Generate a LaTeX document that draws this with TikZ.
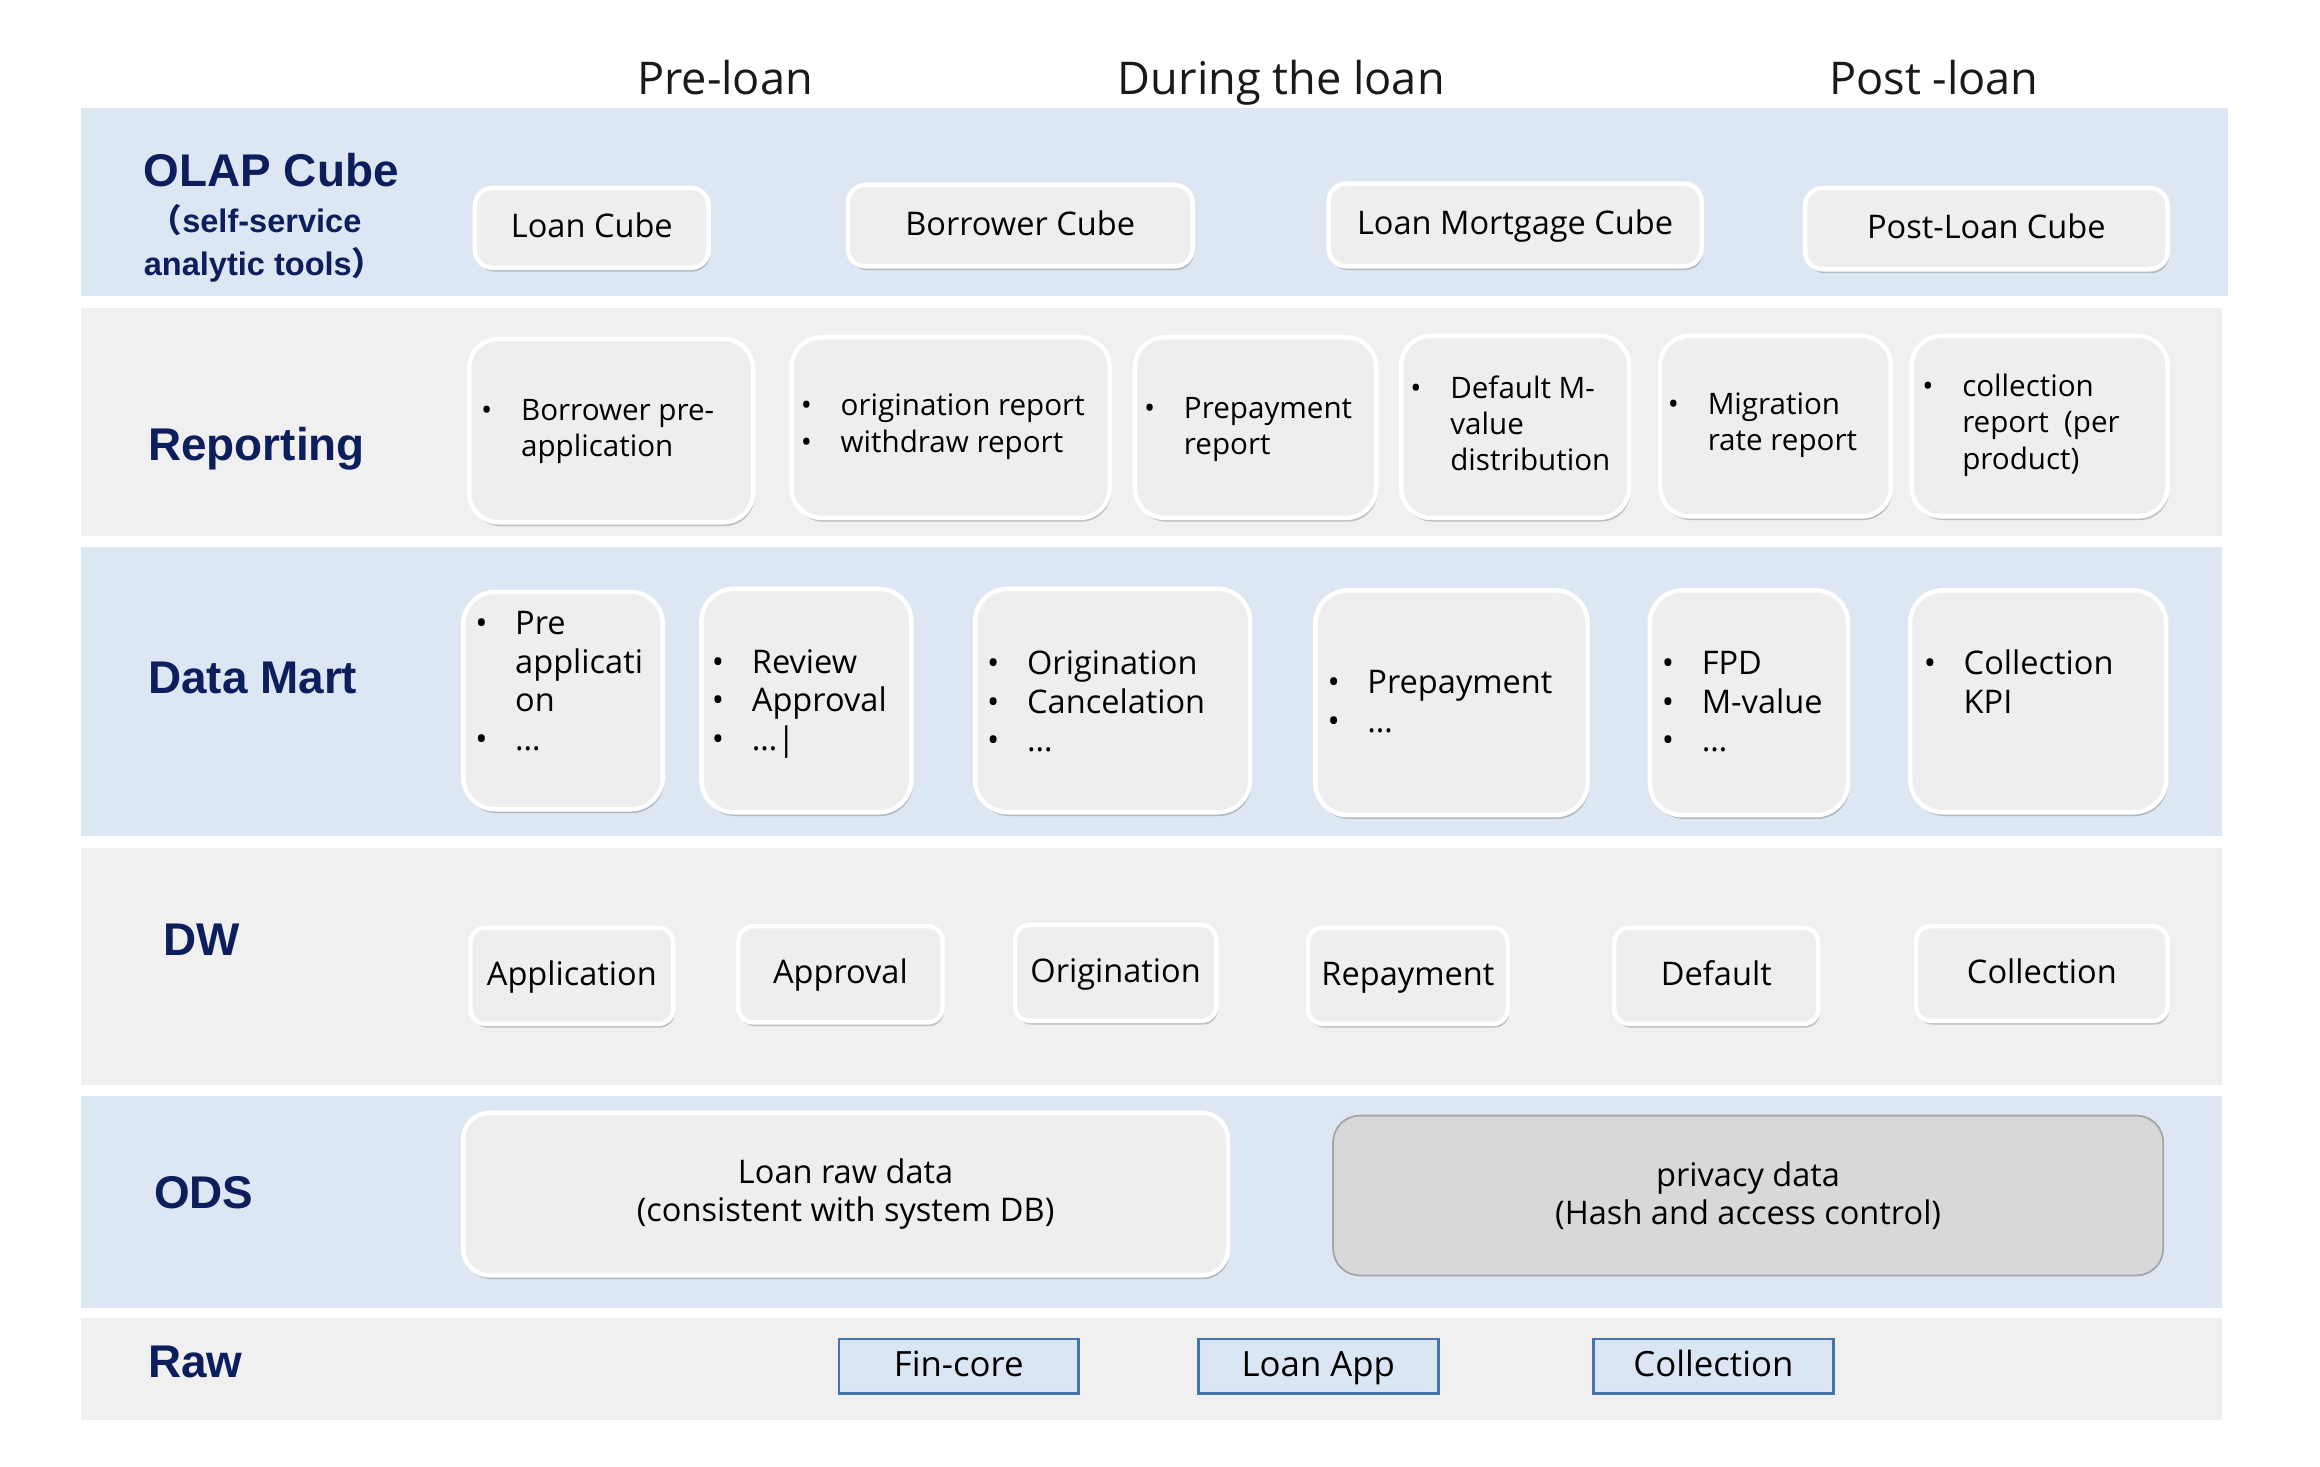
\documentclass[tikz,border=0pt]{standalone}
\usepackage{fontspec}
\setmainfont{Open Sans}
\newfontfamily\labfont{Liberation Sans}
\newfontfamily\cjk{Noto Sans CJK SC}
\usetikzlibrary{shadows}
\definecolor{bandblue}{RGB}{220,231,243}
\definecolor{bandgray}{RGB}{240,240,240}
\definecolor{cardfill}{RGB}{238,238,238}
\definecolor{navy}{RGB}{12,30,92}
\definecolor{rawfill}{RGB}{218,230,244}
\definecolor{rawline}{RGB}{70,115,170}
\definecolor{privfill}{RGB}{216,216,216}
\definecolor{privline}{RGB}{165,165,165}
\newcommand\bu{\makebox[27pt][l]{•}}
\newcommand\ind{\hspace*{27pt}}
\newcommand\bx[5]{\node[#1, minimum width={#4-#2}, minimum height={#5-#3}] at ({(#2+#4)/2},{(#3+#5)/2})}
\begin{document}
\begin{tikzpicture}[x=1pt,y=-1pt,
  card/.style={rectangle, fill=cardfill, draw=white, line width=3pt, inner sep=0pt,
    drop shadow={shadow xshift=1pt, shadow yshift=-2.5pt, opacity=0.3, fill=black!70}},
  oneline/.style={text height=17pt, text depth=4pt},
  cube/.style={card, oneline, rounded corners=12pt, font=\fontsize{22}{26}\selectfont},
  rep/.style={card, rounded corners=20pt},
  dm/.style={card, rounded corners=22pt},
  dw/.style={card, oneline, rounded corners=10pt, font=\fontsize{22}{26}\selectfont},
  ods/.style={card, rounded corners=18pt, align=center, font=\fontsize{22}{26}\selectfont},
  priv/.style={rectangle, rounded corners=18pt, fill=privfill, draw=privline, line width=1.2pt,
    inner sep=0pt, align=center, font=\fontsize{22}{26}\selectfont},
  raw/.style={rectangle, text height=18pt, text depth=4.5pt, fill=rawfill, draw=rawline,
    line width=1.8pt, inner sep=0pt, font=\fontsize{23.5}{28}\selectfont},
  rtxt/.style={anchor=base west, inner sep=0pt, align=left, font=\fontsize{20}{24.5}\selectfont},
  dtxt/.style={anchor=base west, inner sep=0pt, align=left, font=\fontsize{22}{26}\selectfont},
  lab/.style={anchor=base west, inner sep=0pt, text=navy, font=\labfont\bfseries\fontsize{31}{36}\selectfont},
  sublab/.style={anchor=base west, inner sep=0pt, align=left, text=navy, font=\labfont\bfseries\fontsize{22}{29.5}\selectfont},
  hdr/.style={anchor=base, inner sep=0pt, text=black!90, font=\fontsize{30.5}{36}\selectfont}
]
\useasboundingbox (0,0) rectangle (1568,991);
\fill[white] (0,0) rectangle (1568,991);

% bands
\fill[bandblue] (55,73) rectangle (1506,200);
\fill[bandgray] (55,208) rectangle (1502,362);
\fill[bandblue] (55,370) rectangle (1502,565);
\fill[bandgray] (55,573) rectangle (1502,733);
\fill[bandblue] (55,741) rectangle (1502,884);
\fill[bandgray] (55,891) rectangle (1502,960);

% headers
\node[hdr] (hpre) at (490,64) {Pre-loan};
\node[hdr] (hdur) at (866,64) {During the loan};
\node[hdr] (hpost) at (1307,64) {Post -loan};

% left labels (multi-line nodes: base = last line)
\node[lab] (lolap) at (97,126) {OLAP Cube};
\node[sublab] (lolapsub) at (97,186.5) {\hspace*{4pt}{\cjk （}self-service\\analytic tools{\cjk ）}};
\node[lab] (lrep) at (100,311) {Reporting};
\node[lab] (ldm) at (100,469) {Data Mart};
\node[lab] (ldw) at (110,646) {DW};
\node[lab] (lods) at (104,817) {ODS};
\node[lab] (lraw) at (100,931) {Raw};

% OLAP cubes
\bx{cube}{321}{127}{479}{181} (c1) {Loan Cube};
\bx{cube}{573}{125}{806}{180} (c2) {Borrower Cube};
\bx{cube}{898}{124}{1150}{180} (c3) {Loan Mortgage Cube};
\bx{cube}{1220}{127}{1465}{182} (c4) {Post-Loan Cube};

% Reporting
\bx{rep}{317}{229}{509}{353} (r1) {};
\bx{rep}{535}{228}{750}{350} (r2) {};
\bx{rep}{767}{228}{930}{350} (r3) {};
\bx{rep}{947}{227}{1101}{350} (r4) {};
\bx{rep}{1122}{227}{1278}{349} (r5) {};
\bx{rep}{1292}{227}{1465}{349} (r6) {};
\node[rtxt] (r1t) at (325,308.5) {\bu Borrower pre-\\\ind application};
\node[rtxt] (r2t) at (541,305.5) {\bu origination report\\\bu withdraw report};
\node[rtxt] (r3t) at (773,307.5) {\bu Prepayment\\\ind report};
\node[rtxt] (r4t) at (953,318) {\bu Default M-\\\ind value\\\ind distribution};
\node[rtxt] (r5t) at (1127,304.5) {\bu Migration\\\ind rate report};
\node[rtxt] (r6t) at (1299,317) {\bu collection\\\ind report~ (per\\\ind product)};

% Data Mart
\bx{dm}{313}{400}{448}{547} (d1) {};
\bx{dm}{474}{398}{616}{549} (d2) {};
\bx{dm}{659}{398}{845}{549} (d3) {};
\bx{dm}{889}{399}{1073}{551} (d4) {};
\bx{dm}{1115}{399}{1249}{551} (d5) {};
\bx{dm}{1291}{399}{1464}{549} (d6) {};
\node[dtxt] (d1t) at (321,507) {\bu Pre\\\ind applicati\\\ind on\\\bu …};
\node[dtxt] (d2t) at (481,507) {\bu Review\\\bu Approval\\\bu …|};
\node[dtxt] (d3t) at (667,508) {\bu Origination\\\bu Cancelation\\\bu …};
\node[dtxt] (d4t) at (897,495) {\bu Prepayment\\\bu …};
\node[dtxt] (d5t) at (1123,508) {\bu FPD\\\bu M-value\\\bu …};
\node[dtxt] (d6t) at (1300,482) {\bu Collection\\\ind KPI};

% DW
\bx{dw}{318}{627}{455}{692} (w1) {Application};
\bx{dw}{499}{626}{637}{691} (w2) {Approval};
\bx{dw}{686}{625}{822}{690} (w3) {Origination};
\bx{dw}{884}{627}{1019}{692} (w4) {Repayment};
\bx{dw}{1091}{627}{1229}{692} (w5) {Default};
\bx{dw}{1295}{626}{1465}{690} (w6) {Collection};

% ODS
\bx{ods}{313}{752}{830}{862} (o1) {Loan raw data\\(consistent with system DB)};
\bx{priv}{901}{754}{1462}{862} (o2) {privacy data\\(Hash and access control)};

% Raw
\bx{raw}{567}{905}{729}{942} (s1) {Fin-core};
\bx{raw}{810}{905}{972}{942} (s2) {Loan App};
\bx{raw}{1077}{905}{1239}{942} (s3) {Collection};
\end{tikzpicture}
\end{document}
